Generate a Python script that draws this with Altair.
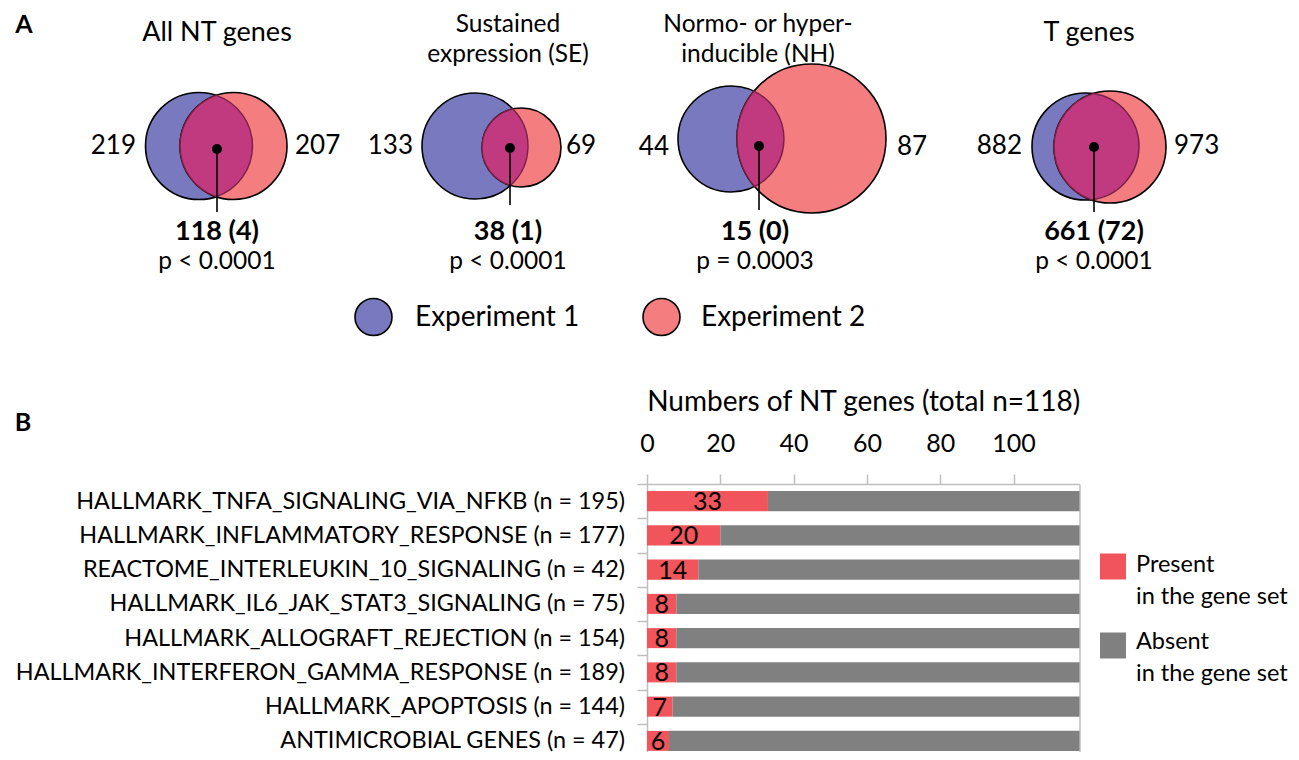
import math
import altair as alt
import pandas as pd

# ------------------------------------------------------------------ data
panel_titles = [["All NT genes"], ["Sustained", "expression (SE)"],
                ["Normo- or hyper-", "inducible (NH)"], ["T genes"]]
exp1_only = [219, 133, 44, 882]
exp2_only = [207, 69, 87, 973]
overlap = [118, 38, 15, 661]
overlap_extra = [4, 1, 0, 72]
p_text = ["p < 0.0001", "p < 0.0001", "p = 0.0003", "p < 0.0001"]
experiments = ["Experiment 1", "Experiment 2"]

gene_sets = ["HALLMARK_TNFA_SIGNALING_VIA_NFKB", "HALLMARK_INFLAMMATORY_RESPONSE",
             "REACTOME_INTERLEUKIN_10_SIGNALING", "HALLMARK_IL6_JAK_STAT3_SIGNALING",
             "HALLMARK_ALLOGRAFT_REJECTION", "HALLMARK_INTERFERON_GAMMA_RESPONSE",
             "HALLMARK_APOPTOSIS", "ANTIMICROBIAL GENES"]
gene_set_sizes = [195, 177, 42, 75, 154, 189, 144, 47]
present_counts = [33, 20, 14, 8, 8, 8, 7, 6]
total_nt = 118
x_ticks = [0, 20, 40, 60, 80, 100]
status_names = ["Present", "Absent"]
status_lines = [["Present", "in the gene set"], ["Absent", "in the gene set"]]
axis_title = "Numbers of NT genes (total n=118)"
panel_letters = ["A", "B"]

# ------------------------------------------------------------------ layout / style
W, H, M = 1299, 760, 8
FONT = "Lato"
BLUE, RED, LENS, LENS_EDGE = "#7879be", "#f37d7f", "#c13a80", "#7d1f45"
BAR_RED, BAR_GRAY, FRAME = "#f2545b", "#808080", "#bfbfbf"
SZ_COUNT, SZ_SUM, SZ_P, SZ_LEG, SZ_BARLEG = 26, 27, 24.5, 28, 23.5
SZ_TICK, SZ_AXTITLE, SZ_YLAB, SZ_VAL = 25, 28, 23.4, 25
title_size = [27, 24.5, 24.5, 27]

# (blue cx, cy, r), (red cx, cy, r), dot (x, y), stem end y
venn_geom = [
    ((199, 146, 53.5), (233.5, 146, 53.5), (217, 149), 212),
    ((475, 146, 53), (521.5, 147.5, 39.5), (510, 148), 205),
    ((731, 139, 53), (811.5, 138.5, 74.5), (759, 146), 210),
    ((1085.5, 146.5, 53.5), (1110, 147, 56), (1094, 147), 212),
]
title_x = [217, 508, 758, 1089]
title_y = [[33], [25, 54.5], [25, 54.5], [33]]
count_y = [146, 146, 147, 146]
left_end = [136, 413, 669, 1022]
right_start = [295, 566, 897, 1174]
sum_x = [217, 508, 755, 1094]
sum_y, p_y = 232, 262
leg_circ = [(373.5, 317), (661.5, 317)]
leg_r = 18.5
leg_text_x = [415, 701]
leg_text_y = 318
letter_pos = [(24, 25), (23, 423)]
bar_leg_sq = [(1113, 566.5), (1113, 645.5)]
bar_leg_text_x = 1136
bar_leg_text_y = [[565, 597], [642, 674]]
plot_left, plot_right, plot_top, plot_bottom = 647, 1079.5, 484, 758


def X(field):
    return alt.X(f"{field}:Q", scale=alt.Scale(domain=[M, W - M], nice=False, zero=False), axis=None)


def Y(field):
    return alt.Y(f"{field}:Q", scale=alt.Scale(domain=[H - M, M], nice=False, zero=False), axis=None)


def lens_path(c1, c2):
    x1, y1, r1 = c1
    x2, y2, r2 = c2
    dx, dy = x2 - x1, y2 - y1
    d = math.hypot(dx, dy)
    a = (d * d + r1 * r1 - r2 * r2) / (2 * d)
    h = math.sqrt(max(r1 * r1 - a * a, 0))
    ux, uy = dx / d, dy / d
    px_, py_ = a * ux, a * uy
    ax, ay = px_ - h * uy, py_ + h * ux
    bx, by = px_ + h * uy, py_ - h * ux
    l1 = 1 if a < 0 else 0
    l2 = 1 if d - a < 0 else 0
    return (f"M {ax:.2f} {ay:.2f} A {r1} {r1} 0 {l1} 0 {bx:.2f} {by:.2f} "
            f"A {r2} {r2} 0 {l2} 0 {ax:.2f} {ay:.2f} Z")


# ------------------------------------------------------------------ Venn layers
circ_rows, lens_rows, dot_rows, stem_rows = [], [], [], []
for g in venn_geom:
    blue, red, dot, stem = g
    circ_rows.append(dict(x=blue[0], y=blue[1], size=4 * blue[2] ** 2, fill=BLUE))
    circ_rows.append(dict(x=red[0], y=red[1], size=4 * red[2] ** 2, fill=RED))
    lens_rows.append(dict(x=blue[0], y=blue[1], path=lens_path(blue, red)))
    dot_rows.append(dict(x=dot[0], y=dot[1]))
    stem_rows.append(dict(x=dot[0], y=dot[1], y2=stem))
for (cx, cy), col in zip(leg_circ, [BLUE, RED]):
    circ_rows.append(dict(x=cx, y=cy, size=4 * leg_r ** 2, fill=col))

circles = alt.Chart(pd.DataFrame(circ_rows)).mark_circle(
    stroke="black", strokeWidth=1.6, opacity=1).encode(
    x=X("x"), y=Y("y"), size=alt.Size("size:Q", scale=None), fill=alt.Fill("fill:N", scale=None))

lenses = alt.Chart(pd.DataFrame(lens_rows)).mark_point(
    filled=True, size=4, fill=LENS, stroke=LENS_EDGE, strokeWidth=1.4, opacity=1).encode(
    x=X("x"), y=Y("y"), shape=alt.Shape("path:N", scale=None))

stems = alt.Chart(pd.DataFrame(stem_rows)).mark_rule(color="black", strokeWidth=1.6).encode(
    x=X("x"), y=Y("y"), y2=alt.Y2("y2:Q"))

dots = alt.Chart(pd.DataFrame(dot_rows)).mark_circle(size=100, color="black", opacity=1).encode(
    x=X("x"), y=Y("y"))

# ------------------------------------------------------------------ texts
groups = {("center", "normal"): [], ("center", "bold"): [], ("right", "normal"): [], ("left", "normal"): []}
for i in range(4):
    for line, yy in zip(panel_titles[i], title_y[i]):
        groups[("center", "normal")].append(dict(x=title_x[i], y=yy, text=line, size=title_size[i]))
    groups[("right", "normal")].append(dict(x=left_end[i], y=count_y[i], text=str(exp1_only[i]), size=SZ_COUNT))
    groups[("left", "normal")].append(dict(x=right_start[i], y=count_y[i], text=str(exp2_only[i]), size=SZ_COUNT))
    groups[("center", "bold")].append(dict(x=sum_x[i], y=sum_y, text=f"{overlap[i]} ({overlap_extra[i]})", size=SZ_SUM))
    groups[("center", "normal")].append(dict(x=sum_x[i], y=p_y, text=p_text[i], size=SZ_P))
for name, xx in zip(experiments, leg_text_x):
    groups[("left", "normal")].append(dict(x=xx, y=leg_text_y, text=name, size=SZ_LEG))
for lines, ys in zip(status_lines, bar_leg_text_y):
    for line, yy in zip(lines, ys):
        groups[("left", "normal")].append(dict(x=bar_leg_text_x, y=yy, text=line, size=SZ_BARLEG))
for letter, (lx, ly) in zip(panel_letters, letter_pos):
    groups[("center", "bold")].append(dict(x=lx, y=ly, text=letter, size=25))

text_layers = []
for (align, weight), rows in groups.items():
    text_layers.append(
        alt.Chart(pd.DataFrame(rows)).mark_text(
            font=FONT, align=align, baseline="middle", fontWeight=weight, color="black").encode(
            x=X("x"), y=Y("y"), text="text:N", size=alt.Size("size:Q", scale=None)))

sq_df = pd.DataFrame([dict(x=sx, y=sy, status=s) for (sx, sy), s in zip(bar_leg_sq, status_names)])
squares = alt.Chart(sq_df).mark_square(size=26 * 26, opacity=1).encode(
    x=X("x"), y=Y("y"),
    color=alt.Color("status:N", scale=alt.Scale(domain=status_names, range=[BAR_RED, BAR_GRAY]), legend=None))

# ------------------------------------------------------------------ bar chart
labels = [f"{g} (n = {n})" for g, n in zip(gene_sets, gene_set_sizes)]
bar_rows = []
for lab, p in zip(labels, present_counts):
    bar_rows.append(dict(label=lab, status="Present", count=p, ord=0))
    bar_rows.append(dict(label=lab, status="Absent", count=total_nt - p, ord=1))
bar_df = pd.DataFrame(bar_rows)
val_df = pd.DataFrame(dict(label=labels, present=present_counts))

bar_x_scale = alt.Scale(domain=[0, total_nt], range=[plot_left - M, plot_right - M], nice=False, zero=False)
bar_y_scale = alt.Scale(range=[plot_top - M, plot_bottom - M], paddingInner=0, paddingOuter=0)

top_axis = alt.Axis(orient="top", offset=-(plot_top - M), values=x_ticks, title=axis_title,
                    titleFont=FONT, titleFontSize=SZ_AXTITLE, titleFontWeight="normal", titleColor="black",
                    titleY=-82, titleBaseline="middle",
                    labelFont=FONT, labelFontSize=SZ_TICK, labelColor="black", labelBaseline="middle",
                    labelPadding=31, labelFlush=False, labelOverlap=False,
                    tickSize=10, tickColor=FRAME, tickWidth=1.5,
                    domainColor=FRAME, domainWidth=1.5, grid=False)
left_axis = alt.Axis(orient="left", offset=-(plot_left - M), title=None,
                     labelFont=FONT, labelFontSize=SZ_YLAB, labelColor="black", labelPadding=12.5,
                     labelLimit=2000, tickSize=10, tickColor=FRAME, tickWidth=1.5, tickBand="extent",
                     domainColor=FRAME, domainWidth=1.5, grid=False)
bottom_axis = alt.Axis(orient="bottom", offset=(plot_bottom - M) - (H - 2 * M), labels=False, ticks=False,
                       title=None, domainColor=FRAME, domainWidth=1.5, grid=False)
right_axis = alt.Axis(orient="right", offset=(plot_right - M) - (W - 2 * M), labels=False, ticks=False,
                      title=None, domainColor=FRAME, domainWidth=1.5, grid=False)

bars = alt.Chart(bar_df).mark_bar(height={"band": 0.584}).encode(
    x=alt.X("count:Q", stack="zero", scale=bar_x_scale, axis=top_axis),
    y=alt.Y("label:N", sort=labels, scale=bar_y_scale, axis=left_axis),
    color=alt.Color("status:N", scale=alt.Scale(domain=status_names, range=[BAR_RED, BAR_GRAY]), legend=None),
    order=alt.Order("ord:Q"),
)

values = alt.Chart(val_df).transform_calculate(mid="datum.present / 2").mark_text(
    font=FONT, fontSize=SZ_VAL, color="black", baseline="middle", dy=1).encode(
    x=alt.X("mid:Q", scale=bar_x_scale, axis=bottom_axis),
    y=alt.Y("label:N", sort=labels, scale=bar_y_scale, axis=right_axis),
    text="present:Q",
)

chart = alt.layer(
    circles, lenses, stems, dots, squares, *text_layers, bars, values
).resolve_scale(
    x="independent", y="independent", color="independent"
).properties(
    width=W - 2 * M, height=H - 2 * M, padding=0,
    autosize=alt.AutoSizeParams(type="none"),
).configure_view(stroke=None)

chart.save("out.html", embed_options={"renderer": "svg", "actions": False})
